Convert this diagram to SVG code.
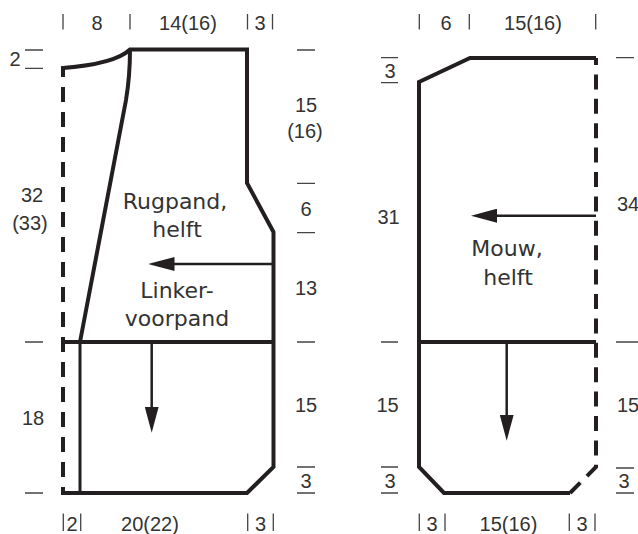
<svg xmlns="http://www.w3.org/2000/svg" width="638" height="534" viewBox="0 0 638 534">
<style>
.ol{fill:none;stroke:#231f20;stroke-width:4;stroke-linejoin:miter}
.cap{stroke-linecap:square}
.dash{fill:none;stroke:#231f20;stroke-width:4}
.thin{fill:none;stroke:#231f20;stroke-width:3}
.shaft{fill:none;stroke:#231f20;stroke-width:2.5}
.tk{stroke:#444;stroke-width:1.3;fill:none}
.dim{font-family:"Liberation Sans",Arial,sans-serif;font-size:20px;fill:#333;text-anchor:middle}
.dims{font-family:"Liberation Sans",Arial,sans-serif;font-size:20px;fill:#333;text-anchor:start}
.lbl{font-family:"DejaVu Sans","Liberation Sans",sans-serif;font-size:22px;fill:#333;text-anchor:middle}
</style>
<defs>
<marker id="ah" markerUnits="userSpaceOnUse" viewBox="0 0 26 14" markerWidth="26" markerHeight="14" refX="1" refY="7" orient="auto">
<path d="M0,0 L26,7 L0,14 Z" fill="#231f20"/>
</marker>
</defs>

<g id="rugpand">
<path class="ol cap" d="M63,68 Q115,64 130,49.5 H247 V183 L273.5,232 V467 L247,493 H63"/>
<path class="ol" d="M130,49.5 C130,65 129,82 126,100 L80,342"/>
<path class="thin" d="M80,342 V493"/>
<path class="ol" d="M63,342 H273.5"/>
<path class="dash" d="M63,68 V493" stroke-dasharray="15 10" stroke-dashoffset="6"/>
<text class="lbl" x="175" y="209">Rugpand,</text>
<text class="lbl" x="177" y="237">helft</text>
<text class="lbl" x="177" y="298">Linker-</text>
<text class="lbl" x="177" y="325.5">voorpand</text>
</g>

<g id="mouw">
<path class="ol" d="M596,58 H470 L419,82 V467 L444,493 H570"/>
<path class="dash" d="M596,58 V467 L570,493" stroke-dasharray="15 9.4" stroke-dashoffset="8"/>
<path class="ol" d="M419,342 H596"/>
<text class="lbl" x="507" y="256">Mouw,</text>
<text class="lbl" x="508" y="285">helft</text>
</g>

<g id="connectors">
<path class="shaft" d="M273,264 H173.5" marker-end="url(#ah)"/>
<path class="shaft" d="M151.7,342 V407.7" marker-end="url(#ah)"/>
<path class="shaft" d="M506.7,342 V415.7" marker-end="url(#ah)"/>
<path class="shaft" d="M596,215.7 H496" marker-end="url(#ah)"/>
</g>

<g id="dimension-marks">
<path class="tk" d="M63,14 V29.5 M130,14 V29.5 M247.5,14 V29.5 M272.5,14 V29.5 M419.3,14 V29.5 M469.3,14 V29.5 M595.7,14 V29.5"/>
<path class="tk" d="M63.3,513.5 V531 M80.7,513.5 V531 M247.7,513.5 V531 M273.3,513.5 V531 M419.3,513.5 V531 M445,513.5 V531 M569.3,513.5 V531 M595,513.5 V531"/>
<path class="tk" d="M25,50 H43 M25,68.3 H43 M25,342 H43 M25,493 H43"/>
<path class="tk" d="M297,50 H315 M297,183.3 H315 M297,232.7 H315 M297,342 H315 M297,467 H315 M297,493 H315"/>
<path class="tk" d="M381,57.7 H398 M381,82.7 H398 M381,342 H398 M381,467 H398 M381,493 H398"/>
<path class="tk" d="M616,57.7 H634 M616,342 H638 M616,468 H634 M616,493 H634"/>
</g>

<g id="dimension-texts">
<text class="dim" x="97" y="30">8</text>
<text class="dim" x="188" y="30">14(16)</text>
<text class="dim" x="260" y="30">3</text>
<text class="dim" x="446" y="30">6</text>
<text class="dim" x="533" y="30">15(16)</text>
<text class="dim" x="15" y="66">2</text>
<text class="dim" x="306" y="112">15</text>
<text class="dim" x="305" y="138">(16)</text>
<text class="dim" x="306" y="216">6</text>
<text class="dim" x="306" y="295">13</text>
<text class="dim" x="306" y="412">15</text>
<text class="dim" x="306" y="488">3</text>
<text class="dim" x="32" y="202">32</text>
<text class="dim" x="30" y="230">(33)</text>
<text class="dim" x="33" y="425">18</text>
<text class="dim" x="72" y="531">2</text>
<text class="dim" x="150" y="531">20(22)</text>
<text class="dim" x="260.5" y="531">3</text>
<text class="dim" x="432" y="531">3</text>
<text class="dim" x="508.5" y="531">15(16)</text>
<text class="dim" x="582" y="531">3</text>
<text class="dim" x="390" y="78">3</text>
<text class="dim" x="388.5" y="224">31</text>
<text class="dim" x="387.5" y="412">15</text>
<text class="dim" x="390" y="488">3</text>
<text class="dims" x="617" y="210.5">34</text>
<text class="dims" x="617" y="412">15</text>
<text class="dim" x="624" y="488">3</text>
</g>
</svg>
